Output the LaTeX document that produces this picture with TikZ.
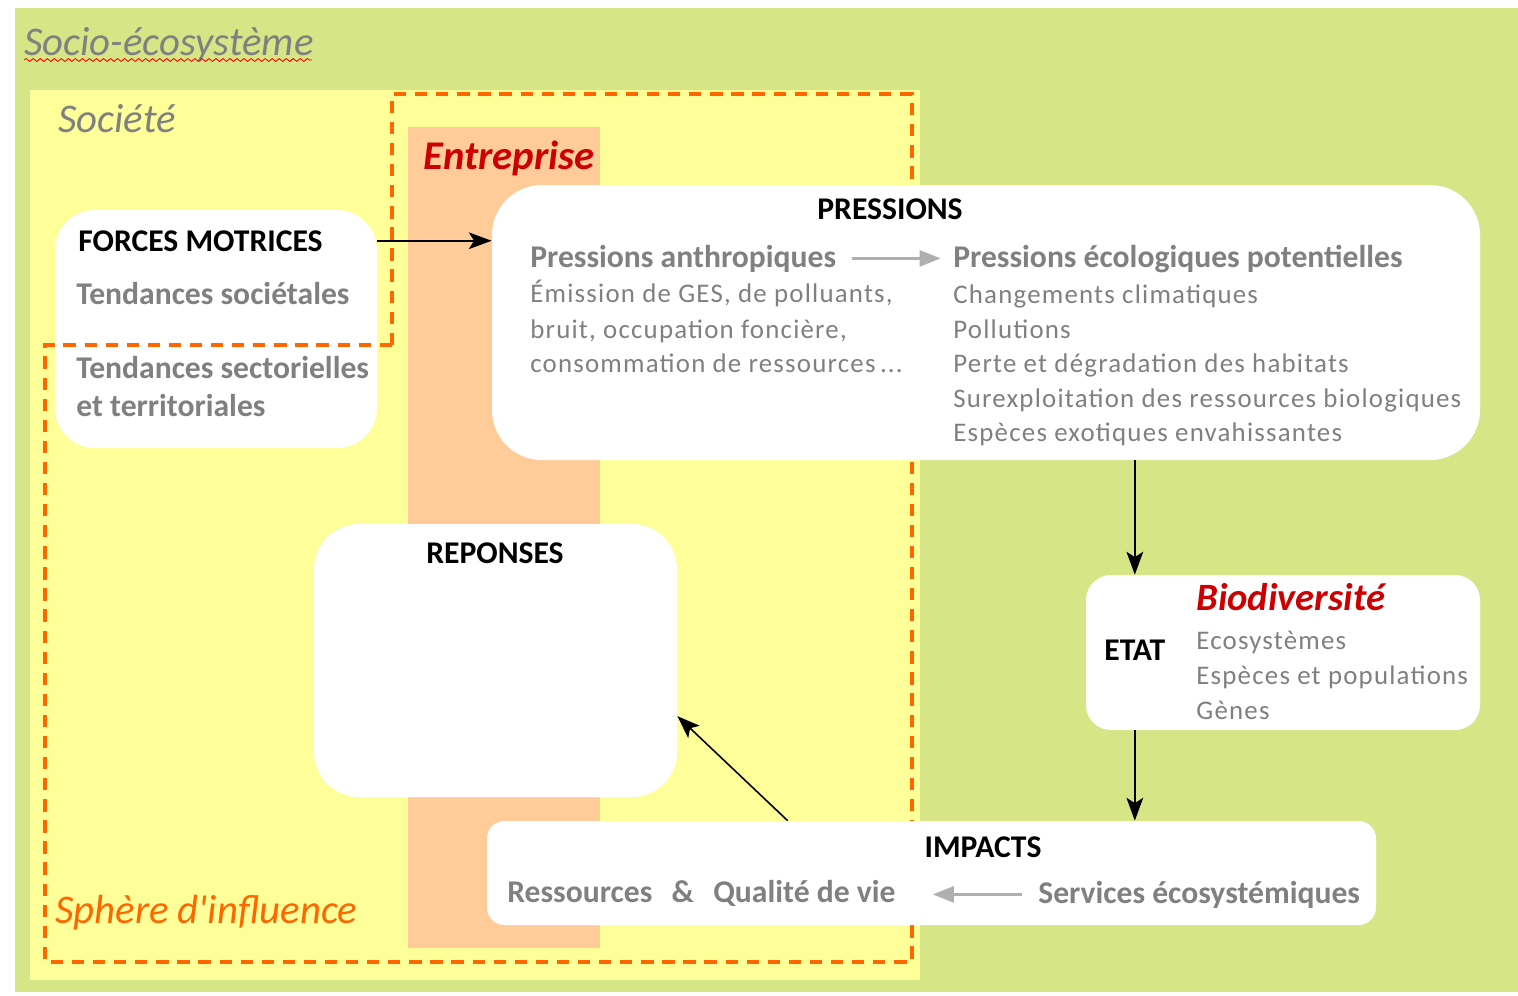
\documentclass[tikz,border=0pt]{standalone}
\usepackage{fontspec}
\setmainfont{Carlito}
\newfontfamily\spacedfont[LetterSpace=4.5]{Carlito}
\usetikzlibrary{arrows.meta,fit,decorations.pathmorphing}
\definecolor{ecogreen}{RGB}{214,229,133}
\definecolor{socyellow}{RGB}{255,255,153}
\definecolor{entpeach}{RGB}{255,204,153}
\definecolor{sphorange}{RGB}{255,102,0}
\definecolor{entred}{RGB}{204,0,0}
\definecolor{txtgray}{RGB}{128,128,128}
\definecolor{arrgray}{RGB}{175,175,175}
\newcommand{\szhead}{\fontsize{18}{21}\selectfont}
\newcommand{\szline}{\fontsize{15.3}{18}\selectfont}
\newcommand{\szlbl}{\fontsize{23.2}{27}\selectfont}

\begin{document}
\begin{tikzpicture}[x=0.02cm,y=-0.02cm,
   txt/.style={inner sep=0pt,anchor=base west},
   ctxt/.style={inner sep=0pt,anchor=base},
   wbox/.style={fill=white,draw=none,inner sep=0pt,rounded corners=#1},
   hd/.style={font=\szhead\bfseries,text=black},
   gb/.style={font=\szhead\bfseries,text=txtgray},
   gl/.style={font=\szline\spacedfont,text=txtgray},
   lbl/.style={font=\szlbl\itshape},
   blk/.style={-{Stealth[length=13pt,width=9.5pt,inset=3pt]},black,line width=0.9pt},
   garr/.style={-{Triangle[length=12pt,width=9pt]},arrgray,line width=1.7pt},
   sphdash/.style={draw=sphorange,line width=2.3pt,dash pattern=on 7pt off 5pt}]
   \path[use as bounding box] (0,0) rectangle (1518,995);
 % fonds
   \fill[ecogreen]  (15,8)   rectangle (1518,992);
   \fill[socyellow] (30,90)  rectangle (920,980);
   \fill[entpeach]  (408,127) rectangle (600,948);
   \node[txt,lbl,text=txtgray] (socio) at (24,55) {Socio-écosystème};
   \draw[red,line width=0.5pt,decorate,decoration={snake,amplitude=0.8pt,segment length=4pt}]
        (24,60) -- (312,60);
   \node[txt,lbl,text=txtgray] (societe) at (58,132) {Société};
   \node[txt,lbl,font=\szlbl\bfseries\itshape,text=entred] (entreprise) at (423,169) {Entreprise};
 % forces motrices
   \node[wbox=0.8cm,fit={(55,210) (377,448)}] (forces) {};
   \draw[sphdash] (392,345) -- (392,94) -- (912,94) -- (912,962) -- (45,962) -- (45,345) -- cycle;
   \node[txt,lbl,text=sphorange] (sphere) at (55,923) {Sphère d\textquotesingle influence};
   \node[txt,hd] (fmhead) at (78,251) {FORCES MOTRICES};
   \node[txt,gb] (fm1) at (76,304) {Tendances sociétales};
   \node[txt,gb] (fm2) at (76,378) {Tendances sectorielles};
   \node[txt,gb] (fm3) at (76,416) {et territoriales};
 % pressions
   \node[wbox=1cm,fit={(492,185) (1480,460)}] (pressions) {};
   \node[ctxt,hd] (prhead) at (890,219) {PRESSIONS};
   \node[txt,gb] (anthro) at (530,267) {Pressions anthropiques};
   \node[txt,gb] (ecolo)  at (953,267) {Pressions écologiques potentielles};
   \node[txt,gl] (an1) at (530,302) {Émission de GES, de polluants,};
   \node[txt,gl] (an2) at (530,338) {bruit, occupation foncière,};
   \node[txt,gl] (an3) at (530,372) {consommation de ressources\,...};
   \node[txt,gl] (ec1) at (953,303) {Changements climatiques};
   \node[txt,gl] (ec2) at (953,338) {Pollutions};
   \node[txt,gl] (ec3) at (953,372) {Perte et dégradation des habitats};
   \node[txt,gl] (ec4) at (953,407) {Surexploitation des ressources biologiques};
   \node[txt,gl] (ec5) at (953,441) {Espèces exotiques envahissantes};
   \draw[garr,shorten <=9pt,shorten >=7pt] (anthro.east) -- (anthro.east -| ecolo.west);
 % reponses
   \node[wbox=0.9cm,fit={(314,524) (677,797)}] (reponses) {};
   \node[ctxt,hd] (rphead) at (495,563) {REPONSES};
 % etat
   \node[wbox=0.5cm,fit={(1086,575) (1480,730)}] (etat) {};
   \node[txt,hd] (ethead) at (1104,660) {ETAT};
   \node[txt,font=\fontsize{22}{26}\selectfont\bfseries\itshape,text=entred] (bio) at (1196,610) {Biodiversité};
   \node[txt,gl] (et1) at (1196,649) {Ecosystèmes};
   \node[txt,gl] (et2) at (1196,684) {Espèces et populations};
   \node[txt,gl] (et3) at (1196,719) {Gènes};
 % impacts
   \node[wbox=0.35cm,fit={(487,821) (1376,925)}] (impacts) {};
   \node[ctxt,hd] (imhead) at (983,857) {IMPACTS};
   \node[txt,gb] (ressources) at (507,902) {Ressources\hspace{11pt}\&\hspace{11pt}Qualité de vie};
   \node[txt,gb] (services) at (1038,903) {Services écosystémiques};
   \draw[garr,shorten <=9pt,shorten >=21pt] (services.west) -- (services.west -| ressources.east);
 % liens
   \draw[blk] (forces.east |- fmhead) -- (pressions.west |- fmhead);
   \draw[blk] (pressions.south -| ethead) -- (etat.north -| ethead);
   \draw[blk] (etat.south -| ethead) -- (impacts.north -| ethead);
   \draw[blk] (impacts.160) -- (reponses.-17);
\end{tikzpicture}
\end{document}
